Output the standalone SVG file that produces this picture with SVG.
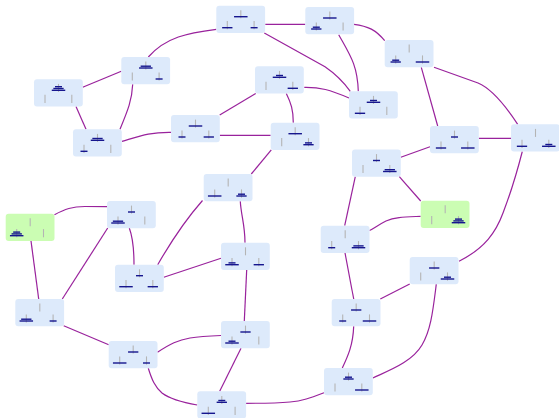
<svg xmlns="http://www.w3.org/2000/svg" xmlns:xlink="http://www.w3.org/1999/xlink" width="559" height="418" viewBox="0 0 559 418">
  <style>
    .box { fill: #ddeafb; }
    .box.end { fill: #cbfdb3; }
    .peg { stroke: #b4b4b4; stroke-width: 1.1; }
    .disk { fill: #16168e; }
    .edge { fill: none; stroke: #99229c; stroke-width: 1.2; }
  </style>
  <defs>
    <!-- three pegs: left and right low, middle raised -->
    <g id="pegs">
      <line class="peg" x1="11" y1="15.4" x2="11" y2="23.6"/>
      <line class="peg" x1="24.5" y1="4.6" x2="24.5" y2="12.6"/>
      <line class="peg" x1="37.8" y1="15.4" x2="37.8" y2="23.6"/>
    </g>
    <!-- disks centred on their peg -->
    <rect id="dL" class="disk" x="-6.75" y="-0.7" width="13.5" height="1.4"/>
    <rect id="dM" class="disk" x="-5.15" y="-0.7" width="10.3" height="1.4"/>
    <rect id="dS" class="disk" x="-3.5" y="-0.7" width="7" height="1.4"/>
    <rect id="box" class="box" width="48.8" height="27.2" rx="3"/>
  </defs>

  <g id="connectors">
    <path class="edge" d="M265.3,24.4 L305.3,24.4"/>
    <path class="edge" d="M216.3,29.3 C188,33 166,37 148.3,57"/>
    <path class="edge" d="M264.3,33 L325,66.7 Q340,77 350.3,91.3"/>
    <path class="edge" d="M338.7,34.7 C350,55 357.5,65 358.3,91.3"/>
    <path class="edge" d="M354,24.3 C368,26 376,30 384.7,40.7"/>
    <path class="edge" d="M421.3,67.3 L437.7,126"/>
    <path class="edge" d="M434,67.3 L478,83 C490,88 505,105 517.7,124.3"/>
    <path class="edge" d="M121.3,71.2 L82.7,87.3"/>
    <path class="edge" d="M132.7,84.3 C132,100 128,110 120,129.3"/>
    <path class="edge" d="M76,106.5 L86,129.3"/>
    <path class="edge" d="M122,141.3 C140,136 150,132 171,132.3"/>
    <path class="edge" d="M219.7,115 L255.7,93.5"/>
    <path class="edge" d="M219.8,135.4 L270.7,135.4"/>
    <path class="edge" d="M286.3,93.5 C291,103 293.3,110 293.3,122.7"/>
    <path class="edge" d="M304.3,87.3 C320,87 330,90 349,98"/>
    <path class="edge" d="M271.3,149.9 L251.3,174"/>
    <path class="edge" d="M478.8,138.4 L511,138.4"/>
    <path class="edge" d="M430,146.7 L400.8,157.3"/>
    <path class="edge" d="M399.3,176.7 L420.7,201"/>
    <path class="edge" d="M355.3,176.7 L344.7,225.7"/>
    <path class="edge" d="M420.7,216.3 C405,217 395,217 386,221 C378,225 373,229 369.5,230.5"/>
    <path class="edge" d="M522.3,151.5 C515,180 508,200 503,213 C496,232 485,248 459,261.3"/>
    <path class="edge" d="M240.3,201.2 C241,215 245,225 245,242.7"/>
    <path class="edge" d="M202.5,200.5 Q180,226 157.7,264.7"/>
    <path class="edge" d="M54.5,214.7 C65,209 72,206.5 85,206.5 L107,206.7"/>
    <path class="edge" d="M129.3,228 C133,238 134,250 134,264.7"/>
    <path class="edge" d="M107.7,228 L62.3,299"/>
    <path class="edge" d="M31,240.9 L38.7,299"/>
    <path class="edge" d="M221,258.3 L163.8,277.3"/>
    <path class="edge" d="M246.7,269.9 L244.3,321"/>
    <path class="edge" d="M63.7,325.7 L108.7,344.7"/>
    <path class="edge" d="M157.5,352.3 C170,344 178,340 190,338 C200,336.5 210,336 221,335.5"/>
    <path class="edge" d="M241,348.2 L219.7,391.3"/>
    <path class="edge" d="M148.3,368.2 C152,380 155,387 162,393 C170,399 180,402 197.3,405"/>
    <path class="edge" d="M324,392.7 C310,398 302,401 290,402 C275,403.3 260,403.3 246.1,403.3"/>
    <path class="edge" d="M345,252.9 L353.7,299"/>
    <path class="edge" d="M409.7,284 L380.3,299"/>
    <path class="edge" d="M436.3,284.2 C433,310 431,330 422,345 C412,362 390,370 372.8,378"/>
    <path class="edge" d="M353.7,326.2 C353,345 348,356 342.3,368"/>
  </g>

  <g id="n1" transform="translate(216.3,5.7)"><use href="#box"/><use href="#pegs"/>
    <use href="#dM" x="11" y="22"/><use href="#dL" x="24.5" y="11"/><use href="#dS" x="37.8" y="22"/></g>
  <g id="n2" transform="translate(305.3,7)"><use href="#box"/><use href="#pegs"/>
    <use href="#dM" x="11" y="22"/><use href="#dS" x="11" y="20.2"/><use href="#dL" x="24.5" y="11"/></g>
  <g id="n3" transform="translate(384.7,40)"><use href="#box"/><use href="#pegs"/>
    <use href="#dM" x="11" y="22"/><use href="#dS" x="11" y="20.2"/><use href="#dL" x="37.8" y="22"/></g>
  <g id="n4" transform="translate(121.3,57)"><use href="#box"/><use href="#pegs"/>
    <use href="#dL" x="24.5" y="11"/><use href="#dM" x="24.5" y="9.2"/><use href="#dS" x="37.8" y="22"/></g>
  <g id="n5" transform="translate(34,79.3)"><use href="#box"/><use href="#pegs"/>
    <use href="#dL" x="24.5" y="11"/><use href="#dM" x="24.5" y="9.2"/><use href="#dS" x="24.5" y="7.4"/></g>
  <g id="n6" transform="translate(255,66.3)"><use href="#box"/><use href="#pegs"/>
    <use href="#dL" x="24.5" y="11"/><use href="#dS" x="24.5" y="9.2"/><use href="#dM" x="37.8" y="22"/></g>
  <g id="n7" transform="translate(349,91.3)"><use href="#box"/><use href="#pegs"/>
    <use href="#dM" x="11" y="22"/><use href="#dL" x="24.5" y="11"/><use href="#dS" x="24.5" y="9.2"/></g>
  <g id="n8" transform="translate(171,115)"><use href="#box"/><use href="#pegs"/>
    <use href="#dS" x="11" y="22"/><use href="#dL" x="24.5" y="11"/><use href="#dM" x="37.8" y="22"/></g>
  <g id="n9" transform="translate(73,129.3)"><use href="#box"/><use href="#pegs"/>
    <use href="#dS" x="11" y="22"/><use href="#dL" x="24.5" y="11"/><use href="#dM" x="24.5" y="9.2"/></g>
  <g id="n10" transform="translate(270.7,122.7)"><use href="#box"/><use href="#pegs"/>
    <use href="#dL" x="24.5" y="11"/><use href="#dM" x="37.8" y="22"/><use href="#dS" x="37.8" y="20.2"/></g>
  <g id="n11" transform="translate(430,126)"><use href="#box"/><use href="#pegs"/>
    <use href="#dM" x="11" y="22"/><use href="#dS" x="24.5" y="11"/><use href="#dL" x="37.8" y="22"/></g>
  <g id="n12" transform="translate(511,124.3)"><use href="#box"/><use href="#pegs"/>
    <use href="#dM" x="11" y="22"/><use href="#dL" x="37.8" y="22"/><use href="#dS" x="37.8" y="20.2"/></g>
  <g id="n13" transform="translate(352,149.5)"><use href="#box"/><use href="#pegs"/>
    <use href="#dS" x="24.5" y="11"/><use href="#dL" x="37.8" y="22"/><use href="#dM" x="37.8" y="20.2"/></g>
  <g id="n14" transform="translate(203.7,174)"><use href="#box"/><use href="#pegs"/>
    <use href="#dL" x="11" y="22"/><use href="#dM" x="37.8" y="22"/><use href="#dS" x="37.8" y="20.2"/></g>
  <g id="n15" transform="translate(107,201)"><use href="#box"/><use href="#pegs"/>
    <use href="#dL" x="11" y="22"/><use href="#dM" x="11" y="20.2"/><use href="#dS" x="24.5" y="11"/></g>
  <g id="n16" transform="translate(5.7,213.7)"><rect class="box end" width="48.8" height="27.2" rx="3"/><use href="#pegs"/>
    <use href="#dL" x="11" y="22"/><use href="#dM" x="11" y="20.2"/><use href="#dS" x="11" y="18.4"/></g>
  <g id="n17" transform="translate(420.7,200.7)"><rect class="box end" width="48.8" height="27.2" rx="3"/><use href="#pegs"/>
    <use href="#dL" x="37.8" y="22"/><use href="#dM" x="37.8" y="20.2"/><use href="#dS" x="37.8" y="18.4"/></g>
  <g id="n18" transform="translate(320.7,225.7)"><use href="#box"/><use href="#pegs"/>
    <use href="#dS" x="11" y="22"/><use href="#dL" x="37.8" y="22"/><use href="#dM" x="37.8" y="20.2"/></g>
  <g id="n19" transform="translate(221,242.7)"><use href="#box"/><use href="#pegs"/>
    <use href="#dL" x="11" y="22"/><use href="#dS" x="11" y="20.2"/><use href="#dM" x="37.8" y="22"/></g>
  <g id="n20" transform="translate(115,264.7)"><use href="#box"/><use href="#pegs"/>
    <use href="#dL" x="11" y="22"/><use href="#dS" x="24.5" y="11"/><use href="#dM" x="37.8" y="22"/></g>
  <g id="n21" transform="translate(409.7,257)"><use href="#box"/><use href="#pegs"/>
    <use href="#dM" x="24.5" y="11"/><use href="#dL" x="37.8" y="22"/><use href="#dS" x="37.8" y="20.2"/></g>
  <g id="n22" transform="translate(15.3,299)"><use href="#box"/><use href="#pegs"/>
    <use href="#dL" x="11" y="22"/><use href="#dM" x="11" y="20.2"/><use href="#dS" x="37.8" y="22"/></g>
  <g id="n23" transform="translate(331.7,299)"><use href="#box"/><use href="#pegs"/>
    <use href="#dS" x="11" y="22"/><use href="#dM" x="24.5" y="11"/><use href="#dL" x="37.8" y="22"/></g>
  <g id="n24" transform="translate(221,321)"><use href="#box"/><use href="#pegs"/>
    <use href="#dL" x="11" y="22"/><use href="#dS" x="11" y="20.2"/><use href="#dM" x="24.5" y="11"/></g>
  <g id="n25" transform="translate(108.7,341)"><use href="#box"/><use href="#pegs"/>
    <use href="#dL" x="11" y="22"/><use href="#dM" x="24.5" y="11"/><use href="#dS" x="37.8" y="22"/></g>
  <g id="n26" transform="translate(324,368)"><use href="#box"/><use href="#pegs"/>
    <use href="#dM" x="24.5" y="11"/><use href="#dS" x="24.5" y="9.2"/><use href="#dL" x="37.8" y="22"/></g>
  <g id="n27" transform="translate(197.3,391.3)"><use href="#box"/><use href="#pegs"/>
    <use href="#dL" x="11" y="22"/><use href="#dM" x="24.5" y="11"/><use href="#dS" x="24.5" y="9.2"/></g>
</svg>
